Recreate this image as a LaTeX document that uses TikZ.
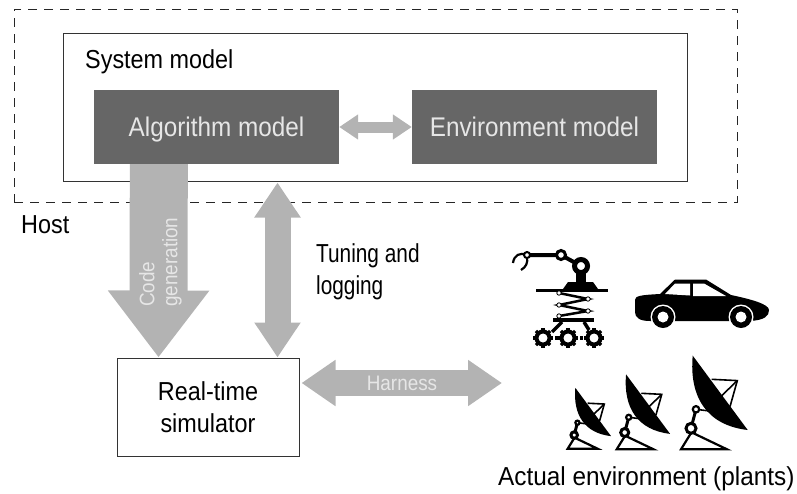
\documentclass[tikz,border=0pt]{standalone}
\usepackage{fontspec}
\setmainfont{Liberation Sans}[FakeStretch=0.9]
\usetikzlibrary{arrows.meta}
\definecolor{boxgray}{HTML}{666666}
\definecolor{arrowgray}{HTML}{B3B3B3}
\definecolor{labelgray}{HTML}{E6E6E6}
\tikzset{
    modelbox/.style={fill=boxgray, text=labelgray, minimum width=245pt, minimum height=74pt, inner sep=0pt, text height=19pt, text depth=0pt, font=\fontsize{27}{30}\selectfont},
    linebox/.style={draw=black!80, line width=1pt, minimum width=182pt, minimum height=98pt, inner sep=0pt, align=center, font=\fontsize{26}{32}\selectfont},
    plaintext/.style={inner sep=0pt, align=left, font=\fontsize{26}{32}\selectfont},
    fatlabel/.style={inner sep=0pt, text=labelgray, font=\fontsize{21}{23}\selectfont},
    pics/dish/.style={code={
        % Base and joints
        \draw[line width=2.2pt] (0,0) -- (46,0) -- (10.5,-17) -- cycle;
        \draw[line width=3pt] (10,-21) -- (15,-40);
        \draw[line width=1.6pt] (15,-40) -- (39,-37);
        % Struts
        \draw[line width=1.6pt] (30.7,-70) -- (56.3,-68.7) -- (49,-42.7);
        \draw[line width=1.6pt] (56.3,-68.7) -- (39,-52);
        % Reflector
        \fill (11.7,-93.7) .. controls (8,-52) and (26,-24) .. (66.7,-19.3) -- cycle;
        \draw[fill=white, line width=3pt] (10,-21) circle (5);
        \draw[fill=white, line width=2.2pt] (15,-40) circle (3.2);
    }}
}
\begin{document}
\begin{tikzpicture}[x=1pt, y=-1pt]
    \useasboundingbox (0,0) rectangle (797,493);
    % Host and system model
    \node[draw=black!85, dash pattern=on 9pt off 7pt, line width=1pt, minimum width=723pt, minimum height=193pt, inner sep=0pt] (host) at (375.5,105.5) {};
    \node[draw=black!80, line width=1pt, minimum width=624pt, minimum height=148pt, inner sep=0pt] (sysmodel) at (375.5,107) {};
    \node[plaintext, anchor=base west] (syslabel) at (85,68) {System model};
    \node[plaintext, anchor=base west] (hostlabel) at (21,233) {Host};
    % Models
    \node[modelbox] (algo) at (216.5,127) {Algorithm model};
    \node[modelbox] (envi) at (534.5,127) {Environment model};
    % Simulator
    \node[linebox] (sim) at (208,407) {Real-time\\simulator};
    % Fat arrows
    \draw[arrowgray, line width=11pt, {Triangle[length=19pt, width=24pt]}-{Triangle[length=19pt, width=24pt]}] (algo.east) -- (envi.west);
    \draw[arrowgray, line width=58pt, -{Triangle[length=67pt, width=97pt]}] ([xshift=65pt]algo.south west) -- ([xshift=42pt]sim.north west);
    \draw[arrowgray, line width=26pt, {Triangle[length=35pt, width=44pt]}-{Triangle[length=35pt, width=44pt]}] ([xshift=161pt, yshift=-1pt]sim.north west |- sysmodel.south) -- ([xshift=161pt]sim.north west);
    \coordinate (plantend) at (502,383);
    \draw[arrowgray, line width=26pt, {Triangle[length=34pt, width=44pt]}-{Triangle[length=34pt, width=44pt]}] ([xshift=2pt]sim.east |- plantend) -- (plantend);
    % Arrow labels
    \node[fatlabel, rotate=90, anchor=south west, align=left] (codelabel) at (182,307) {Code\\generation};
    \node[fatlabel] (harnesslabel) at (402,383) {Harness};
    \node[plaintext, anchor=north west, xscale=0.89] (tuninglabel) at (316,243) {Tuning and\\logging};
    % Robot arm
    \draw[line width=3pt] (536,290.5) -- (608,290.5);
    \fill (563,289) -- (568,282) -- (593,282) -- (598,289) -- cycle;
    \fill (576,268) rectangle (586,283);
    \draw[line width=4pt] (581,266) -- (561,255) -- (527,255);
    \draw[line width=2.2pt] (527,255) .. controls (520,252) and (514,255) .. (513,263);
    \draw[line width=2.2pt] (527,257) .. controls (528,263) and (526,267) .. (521,270);
    \draw[fill=white, line width=5pt] (581,266) circle (6.5);
    \draw[fill=white, line width=3pt] (561,255) circle (4.5);
    \draw[fill=white, line width=2pt] (527,255) circle (3);
    % Spring
    \draw[line width=2.5pt] (559,293) -- (588,299) -- (559,305) -- (588,311) -- (559,316);
    \foreach \y/\x in {293/559, 299/588, 305/559, 311/588, 316/559}
    {
        \draw[fill=white, line width=0.8pt] (\x,\y) circle (2.2);
    }
    \draw[line width=3.5pt] (553,320) -- (594,320);
    \draw[line width=3.5pt] (562,322) -- (552,332);
    \draw[line width=3.5pt] (584,322) -- (589,330);
    % Gears
    \foreach \x in {543,568,594}
    {
        \draw[fill=white, line width=4pt] (\x,338) circle (6.5);
        \foreach \t in {0,45,...,315}
        {
            \draw[line width=3.2pt] (\x,338) ++(\t:7.5) -- ++(\t:2.5);
        }
    }
    \fill (554.5,336) rectangle (557.5,340);
    \fill (579.5,336) rectangle (582.5,340);
    % Car
    \fill (635,300) .. controls (635,296) and (640,295) .. (660,294) -- (675,279.5) -- (706,279.5) -- (731,295)
        .. controls (750,299) and (769,304) .. (769,310) .. controls (769,316) and (765,320) .. (750,321)
        -- (650,321) .. controls (640,321) and (635,318) .. (635,312) -- cycle;
    \fill[white] (665,294) -- (675,283.5) -- (690,283.5) -- (690,295.5) -- cycle;
    \fill[white] (693,283.5) -- (704,283.5) -- (726,296) -- (693,296) -- cycle;
    \foreach \x in {663,741}
    {
        \fill[white] (\x,317) circle (12.5);
        \fill (\x,317) circle (11);
        \fill[white] (\x,317) circle (5.5);
    }
    % Dishes
    \pic[scale=0.65] at (567.7,448.7) {dish};
    \pic[scale=0.8] at (616.7,449.3) {dish};
    \pic at (681,449.3) {dish};
    \node[plaintext, anchor=base west, xscale=1.04] (plantlabel) at (498,485) {Actual environment (plants)};
\end{tikzpicture}
\end{document}
